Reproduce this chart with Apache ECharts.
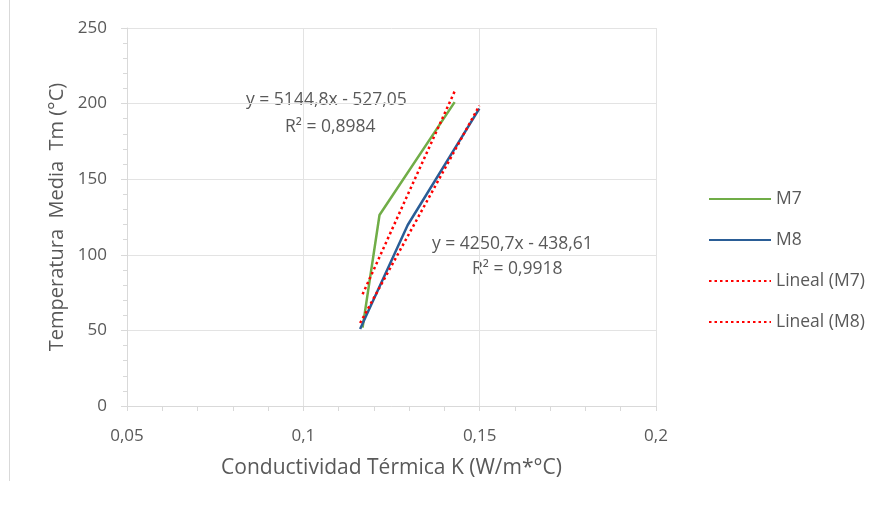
<!DOCTYPE html>
<html><head><meta charset="utf-8">
<script src="https://cdn.jsdelivr.net/npm/echarts@6/dist/echarts.min.js"></script>
<style>html,body{margin:0;padding:0;background:#fff}#c{width:884px;height:509px}</style>
</head><body><div id="c"></div>
<script>
// Data
const m7 = [[0.1168, 51.8], [0.1216, 126.3], [0.1429, 201]];
const m8 = [[0.1161, 50.9], [0.1296, 119.7], [0.1499, 196.7]];
const trendM7 = [[0.1168, 73.9], [0.1429, 208.1]];
const trendM8 = [[0.1161, 54.9], [0.1499, 198.6]];
const eqM7 = ['y = 5144,8x - 527,05', 'R² = 0,8984'];
const eqM8 = ['y = 4250,7x - 438,61', 'R² = 0,9918'];
const seriesNames = ['M7', 'M8', 'Lineal (M7)', 'Lineal (M8)'];

const font = '"Open Sans", "Liberation Sans", sans-serif';
const gray = '#595959';
const chart = echarts.init(document.getElementById('c'), null, {renderer: 'canvas'});
chart.setOption({
  animation: false,
  textStyle: {fontFamily: font},
  grid: {left: 127, right: 228, top: 28, bottom: 103, containLabel: false},
  xAxis: {
    type: 'value', min: 0.05, max: 0.2, interval: 0.05,
    name: 'Conductividad Térmica K (W/m*°C)', nameLocation: 'middle', nameGap: 52,
    nameTextStyle: {color: gray, fontSize: 21, fontFamily: font},
    axisLine: {show: true, lineStyle: {color: '#d9d9d9', width: 1}},
    axisTick: {show: true, length: 5, lineStyle: {color: '#d9d9d9'}},
    minorTick: {show: true, splitNumber: 5, length: 5, lineStyle: {color: '#d9d9d9'}},
    axisLabel: {color: gray, fontSize: 17, margin: 22, formatter: v => String(+v.toFixed(2)).replace('.', ',')},
    splitLine: {show: true, lineStyle: {color: '#e3e3e3'}}
  },
  yAxis: {
    type: 'value', min: 0, max: 250, interval: 50,
    name: 'Temperatura  Media  Tm (°C)', nameLocation: 'middle', nameGap: 60,
    nameTextStyle: {color: gray, fontSize: 20, fontFamily: font},
    axisLine: {show: true, lineStyle: {color: '#d9d9d9', width: 1}},
    axisTick: {show: true, length: 6, lineStyle: {color: '#d9d9d9'}},
    minorTick: {show: true, splitNumber: 5, length: 4, lineStyle: {color: '#d9d9d9'}},
    axisLabel: {color: gray, fontSize: 17, margin: 20},
    splitLine: {show: true, lineStyle: {color: '#e3e3e3'}}
  },
  legend: {
    orient: 'vertical', left: 703, top: 185, itemGap: 23, itemWidth: 62, itemHeight: 14,
    itemStyle: {opacity: 0},
    textStyle: {color: gray, fontSize: 17.5, fontFamily: font},
    data: seriesNames
  },
  series: [
    {name: seriesNames[0], type: 'line', data: m7, symbol: 'none', lineStyle: {color: '#70AD47', width: 2.5}, itemStyle: {color: '#70AD47'}, z: 3},
    {name: seriesNames[1], type: 'line', data: m8, symbol: 'none', lineStyle: {color: '#2a5d96', width: 2.5}, itemStyle: {color: '#2a5d96'}, z: 3},
    {name: seriesNames[2], type: 'line', data: trendM7, symbol: 'none', lineStyle: {color: '#ff0000', width: 2.5, type: [2.5, 3]}, itemStyle: {color: '#ff0000'}, z: 4},
    {name: seriesNames[3], type: 'line', data: trendM8, symbol: 'none', lineStyle: {color: '#ff0000', width: 2.5, type: [2.5, 3]}, itemStyle: {color: '#ff0000'}, z: 4}
  ],
  graphic: [
    {type: 'line', shape: {x1: 9.5, y1: 0, x2: 9.5, y2: 481}, style: {stroke: '#d9d9d9', lineWidth: 1}},
    {type: 'text', left: 246, top: 91, style: {text: eqM7[0], fill: gray, font: '17.5px ' + font}},
    {type: 'text', left: 285, top: 118, style: {text: eqM7[1], fill: gray, font: '17.5px ' + font}},
    {type: 'text', left: 432, top: 235, style: {text: eqM8[0], fill: gray, font: '17.5px ' + font}},
    {type: 'text', left: 472, top: 260, style: {text: eqM8[1], fill: gray, font: '17.5px ' + font}}
  ]
});
</script></body></html>
